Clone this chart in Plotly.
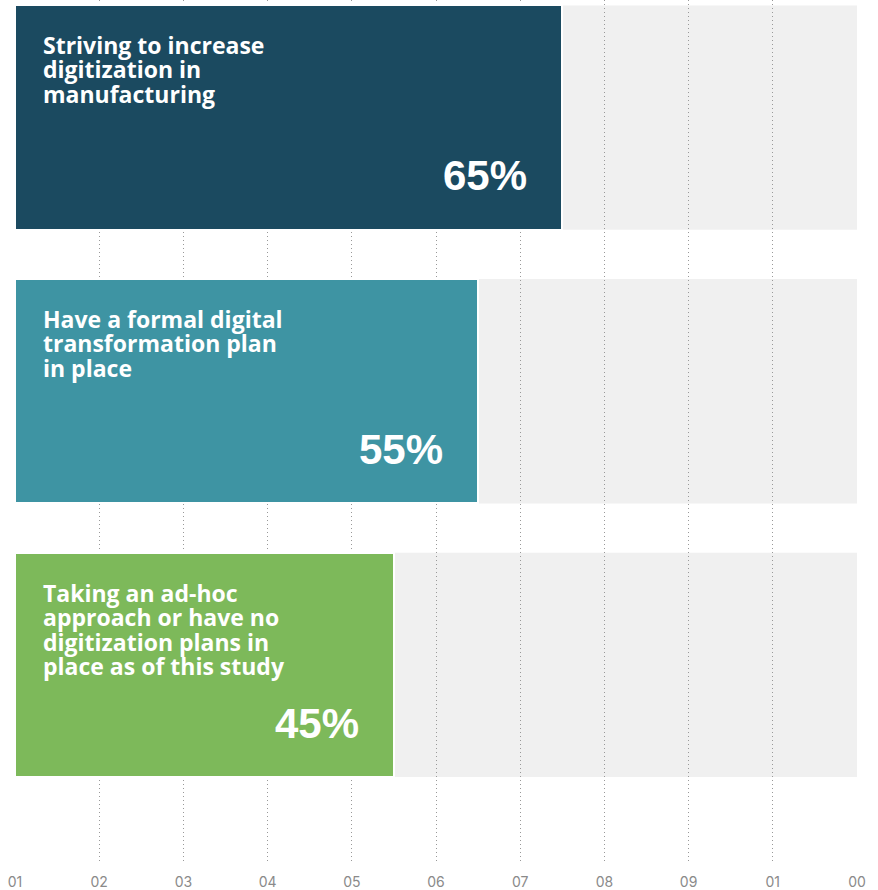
import plotly.graph_objects as go

categories = [
    "Striving to increase<br>digitization in<br>manufacturing",
    "Have a formal digital<br>transformation plan<br>in place",
    "Taking an ad-hoc<br>approach or have no<br>digitization plans in<br>place as of this study",
]
values = [65, 55, 45]
value_labels = ["65%", "55%", "45%"]
bar_colors = ["#1B4A60", "#3E94A3", "#7DB95A"]
tick_vals = [0, 10, 20, 30, 40, 50, 60, 70, 80, 90, 100]
tick_text = ["01", "02", "03", "04", "05", "06", "07", "08", "09", "01", "00"]

n = len(categories)
ypos = [n - 1 - i for i in range(n)]
W = 0.82

fig = go.Figure()
fig.add_trace(go.Bar(
    x=values, y=ypos, orientation="h", width=W,
    marker=dict(color=bar_colors, line=dict(color="white", width=2)),
    hoverinfo="skip", showlegend=False,
))

shapes = []
annotations = []
for i, (cat, v, lab, y) in enumerate(zip(categories, values, value_labels, ypos)):
    shapes.append(dict(type="rect", xref="x", yref="y", x0=v, x1=100,
                       y0=y - W / 2, y1=y + W / 2, fillcolor="#F0F0F0",
                       line=dict(width=0), layer="below"))
    styled = "<br>".join("<span style='font-size:23px'>%s</span>" % s for s in cat.split("<br>"))
    annotations.append(dict(
        x=0, y=y + W / 2, xref="x", yref="y", text=styled, showarrow=False,
        xanchor="left", yanchor="top", align="left", xshift=26, yshift=-22,
        font=dict(family="Open Sans, Roboto, Liberation Sans", size=18.8,
                  color="white", weight="bold"),
    ))
    annotations.append(dict(
        x=v, y=y - W / 2, xref="x", yref="y", text=lab, showarrow=False,
        xanchor="right", yanchor="middle", xshift=-33, yshift=54,
        font=dict(family="Liberation Sans, Arial", size=42, color="white", weight="bold"),
    ))

fig.update_layout(
    width=878, height=890,
    margin=dict(l=15, r=21, t=0, b=25),
    plot_bgcolor="white", paper_bgcolor="white",
    xaxis=dict(range=[0, 100], tickvals=tick_vals, ticktext=tick_text,
               showgrid=True, gridcolor="#999999", griddash="1px,3px", gridwidth=1,
               zeroline=False, showline=False, ticks="", ticklabelstandoff=9,
               tickfont=dict(family="Inter, Roboto", size=14, color="#8A8A8A"),
               fixedrange=True),
    yaxis=dict(range=[-0.724, 2.43], showgrid=False, zeroline=False,
               showticklabels=False, showline=False, fixedrange=True),
    shapes=shapes, annotations=annotations, bargap=0,
)

fig.write_html("out.html")
